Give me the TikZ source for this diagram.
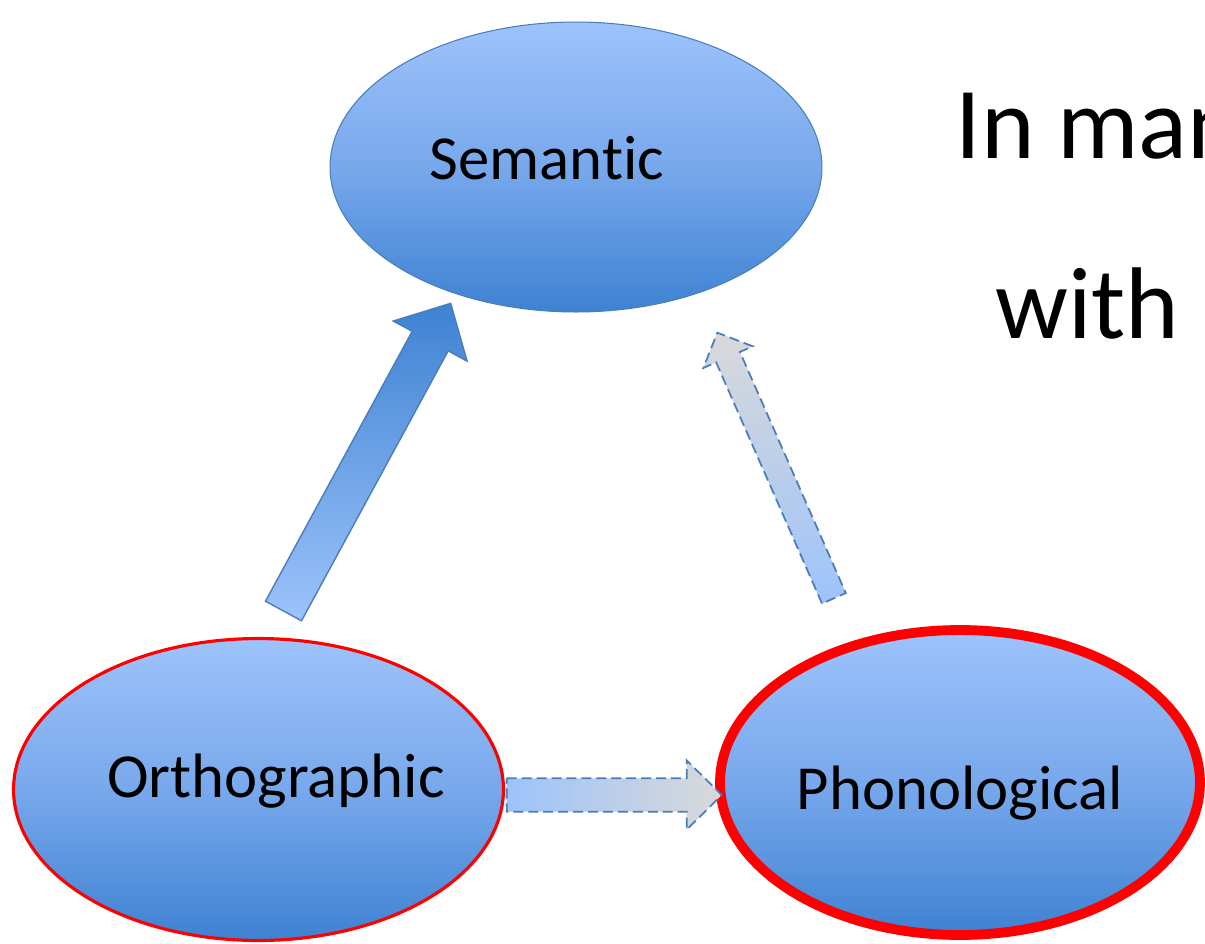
\documentclass[tikz,border=0pt]{standalone}
\usepackage{fontspec}
\setmainfont{Carlito}[Ligatures=NoCommon]
\usetikzlibrary{shapes.geometric,calc}
\definecolor{lightblue}{RGB}{157,195,251}
\definecolor{midblue}{RGB}{120,168,236}
\definecolor{darkblue}{RGB}{62,130,210}
\definecolor{edgeblue}{RGB}{74,126,187}
\definecolor{lgray}{RGB}{217,217,217}
\definecolor{pptred}{RGB}{255,0,0}
\newcommand\fatarrow[6]{%
  \path (#3) coordinate (fa-tip) ($(#3)!#6!(#2)$) coordinate (fa-h);
  \path[#1] ($(#2)!#4!90:(#3)$) -- ($(fa-h)!#4!90:(fa-tip)$) -- ($(fa-h)!#5!90:(fa-tip)$)
    -- (fa-tip) -- ($(fa-h)!#5!-90:(fa-tip)$) -- ($(fa-h)!#4!-90:(fa-tip)$)
    -- ($(#2)!#4!-90:(#3)$) -- cycle;
}
\tikzset{
  blob/.style={ellipse, inner sep=0pt, top color=lightblue, bottom color=darkblue, middle color=midblue},
  lbl/.style={anchor=base, inner sep=0pt, font=\fontsize{35.7}{40}\selectfont},
  big/.style={anchor=base west, inner sep=0pt, font=\fontsize{58}{64}\selectfont},
  solidarrow/.style={top color=darkblue, bottom color=lightblue, draw=edgeblue, line width=0.8pt, line join=miter},
  dasharrow/.style={draw=edgeblue, line width=1pt, dash pattern=on 5.7pt off 2.8pt, line join=miter},
}
\begin{document}
\begin{tikzpicture}[x=0.02cm, y=-0.02cm]
\path[use as bounding box] (0,0) rectangle (1205,944);
\clip (0,0) rectangle (1205,944);
\fill[white] (0,0) rectangle (1205,944);
% ellipses
\node[blob, draw=edgeblue, line width=0.6pt, minimum width=9.84cm, minimum height=5.8cm] (sem) at (576,167) {};
\node[blob, draw=pptred, line width=1.8pt, minimum width=9.8cm, minimum height=6.04cm] (orth) at (258.5,789.5) {};
\node[blob, draw=pptred, line width=5.6pt, minimum width=9.6cm, minimum height=6.1cm] (phon) at (960,782.5) {};
% labels
\node[lbl] (semt) at (547,179) {Semantic};
\node[lbl] (ortht) at (276,797) {Orthographic};
\node[lbl] (phont) at (960,809) {Phonological};
% arrow end points
\coordinate (o2s-t) at (283.5,611);
\coordinate (o2s-h) at (450.7,303.3);
\coordinate (p2s-t) at (833.9,598.3);
\coordinate (p2s-h) at (717.3,332.7);
\coordinate (o2p-t) at (506.7,795);
\coordinate (o2p-h) at (721.7,795);
\fatarrow{solidarrow}{o2s-t}{o2s-h}{0.41cm}{0.84cm}{0.86cm}
\fatarrow{dasharrow, top color=lgray, bottom color=lightblue}{p2s-t}{p2s-h}{0.26cm}{0.54cm}{0.534cm}
\fatarrow{dasharrow, left color=lightblue, right color=lgray}{o2p-t}{o2p-h}{0.334cm}{0.694cm}{0.70cm}
% big text (cut off by the picture's right edge, as in the reference)
\node[big] (line1) at (955,158) {In many};
\node[big] (line2) at (995,338) {with};
\end{tikzpicture}
\end{document}
